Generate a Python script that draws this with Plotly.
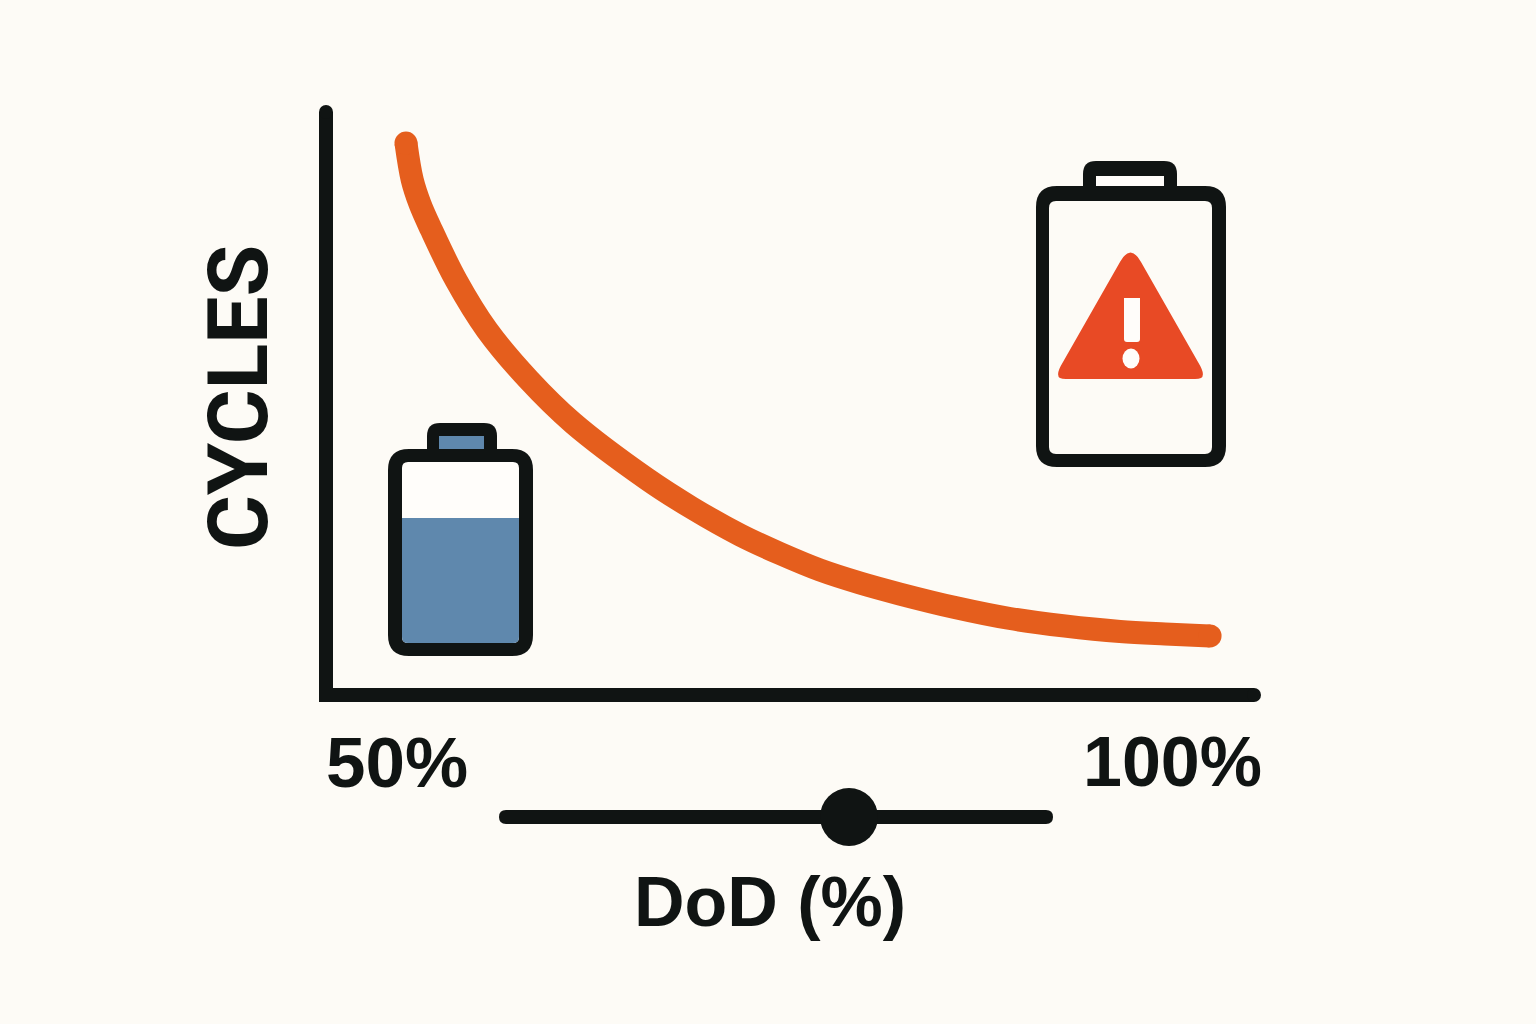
import plotly.graph_objects as go

# Data (y is a relative cycle index; the chart has no y scale)
dod = [50.06, 50.45, 50.93, 51.61, 53.16, 55.08, 57.68, 60.41, 64.99, 67.78, 70.76, 73.23, 75.71, 78.19, 80.67, 84.08, 87.48, 90.89, 94.30, 97.09, 99.88]
cycles = [99.45, 92.70, 88.32, 83.76, 74.45, 65.33, 56.20, 48.36, 38.14, 32.85, 27.92, 24.54, 21.53, 19.16, 17.15, 14.69, 12.68, 11.31, 10.31, 9.85, 9.49]
x_end_labels = ["50%", "100%"]
x_title = "DoD (%)"
y_title = "CYCLES"

BG = "#fdfbf6"
INK = "#101413"
ORANGE = "#e55e1d"
BLUE = "#5f88ad"
RED = "#e84a25"
PALE = "#fffdfa"
W, H = 1536, 1024
L, R, T, B = 333, 1254, 112, 688


def px(x):
    return (x - L) / (R - L)


def py(y):
    return (B - y) / (B - T)


def path(cmds):
    out = []
    for c in cmds:
        coords = c[1:]
        s = " ".join(f"{px(coords[i]):.5f},{py(coords[i + 1]):.5f}" for i in range(0, len(coords), 2))
        out.append(f"{c[0]} {s}")
    return " ".join(out) + " Z"


def rr(x0, y0, x1, y1, r=0, rb=None):
    """Rounded rectangle path in paper coordinates, from pixel positions."""
    rb = r if rb is None else rb
    return path([
        ("M", x0 + r, y0), ("L", x1 - r, y0), ("Q", x1, y0, x1, y0 + r),
        ("L", x1, y1 - rb), ("Q", x1, y1, x1 - rb, y1), ("L", x0 + rb, y1),
        ("Q", x0, y1, x0, y1 - rb), ("L", x0, y0 + r), ("Q", x0, y0, x0 + r, y0),
    ])


def fill(d, color):
    return dict(type="path", xref="paper", yref="paper", path=d, fillcolor=color, line_width=0, layer="above")


def circle(cx, cy, rx, ry, color):
    return dict(type="circle", xref="paper", yref="paper", x0=px(cx - rx), x1=px(cx + rx),
                y0=py(cy + ry), y1=py(cy - ry), fillcolor=color, line_width=0, layer="above")


shapes = [
    # rounded ends of the axes
    circle(326, 112, 7, 7, INK),
    circle(1254, 695, 7, 7, INK),
    # DoD slider
    fill(rr(499, 810, 1053, 824, 7), INK),
    circle(849, 817, 29, 29, INK),
    # full-ish battery
    fill(rr(427, 423, 497, 460, 13, 0), INK),
    fill(rr(439, 436, 484, 449), BLUE),
    fill(rr(388, 449, 533, 656, 21), INK),
    fill(rr(402, 462, 519, 643, 6), PALE),
    fill(rr(402, 518, 519, 643, 0, 6), BLUE),
    # warning battery
    fill(rr(1083, 161, 1177, 195, 13, 0), INK),
    fill(rr(1096, 176, 1164, 186), PALE),
    fill(rr(1036, 186, 1226, 467, 21), INK),
    fill(rr(1049, 201, 1212, 454, 7), BG),
    fill(path([("M", 1120, 262), ("Q", 1130.5, 243, 1141, 262), ("L", 1198, 362),
               ("Q", 1206, 375, 1201, 378), ("Q", 1199, 379, 1195, 379), ("L", 1066, 379),
               ("Q", 1062, 379, 1060, 378), ("Q", 1055, 375, 1063, 362)]), RED),
    fill(rr(1124, 298, 1140, 342, 0, 3), PALE),
    circle(1131, 358.5, 8.5, 10, PALE),
]


def label(text, x, y, size, family, angle=0):
    return dict(text=text, xref="paper", yref="paper", x=px(x), y=py(y), showarrow=False,
                xanchor="center", yanchor="middle", textangle=angle,
                font=dict(family=family, size=size, color=INK, weight="bold"))


annotations = [
    label(x_end_labels[0], 397, 762, 71, "Liberation Sans"),
    label(x_end_labels[1], 1172, 762, 70, "Liberation Sans"),
    label(x_title, 770, 902, 70, "Liberation Sans"),
    label(y_title, 238, 398, 84, "Roboto", -90),
]

fig = go.Figure()
fig.add_trace(go.Scatter(x=dod, y=cycles, mode="lines", hoverinfo="skip",
                         line=dict(color=ORANGE, width=23, shape="spline", smoothing=1.0)))
fig.add_trace(go.Scatter(x=[dod[0], dod[-1]], y=[cycles[0], cycles[-1]], mode="markers", hoverinfo="skip",
                         marker=dict(color=ORANGE, size=23, line_width=0), cliponaxis=False))

x_scale = 16.14
y_scale = 5.48
axis_common = dict(showgrid=False, zeroline=False, showticklabels=False, ticks="",
                   showline=True, linewidth=14, linecolor=INK)
fig.update_layout(
    width=W, height=H, showlegend=False, paper_bgcolor=BG, plot_bgcolor=BG,
    margin=dict(l=L, r=W - R, t=T, b=H - B, autoexpand=False),
    xaxis=dict(range=[50 - (405 - L) / x_scale, 100 + (R - 1212) / x_scale], **axis_common),
    yaxis=dict(range=[0, (B - T) / y_scale], **axis_common),
    shapes=shapes, annotations=annotations,
)
fig.write_html("out.html", config={"displayModeBar": False},
               post_script="document.body.style.margin='0';document.body.style.background='%s';" % BG)
